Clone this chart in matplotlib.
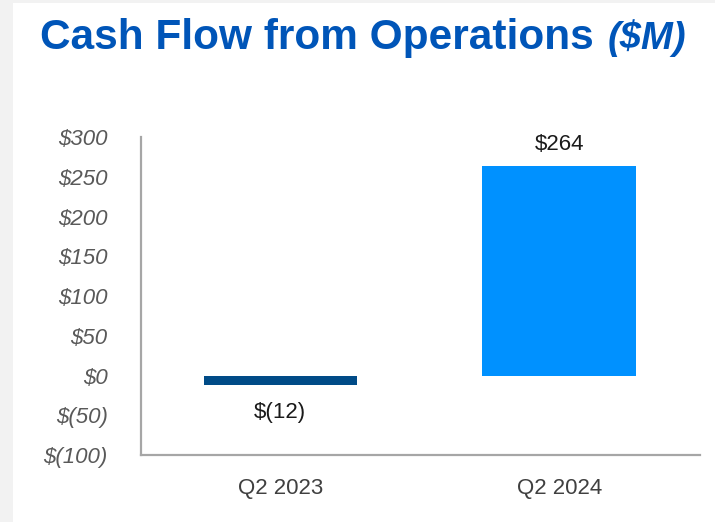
import matplotlib.pyplot as plt
from matplotlib.patches import Rectangle

# chart data
quarters = ['Q2 2023', 'Q2 2024']
cash_flow = [-12, 264]
value_labels = ['$(12)', '$264']
bar_colors = ['#004b87', '#0091ff']
y_ticks = [-100, -50, 0, 50, 100, 150, 200, 250, 300]
y_tick_labels = ['$(100)', '$(50)', '$0', '$50', '$100', '$150', '$200', '$250', '$300']

plt.rcParams['font.family'] = ['Liberation Sans', 'DejaVu Sans']

fig = plt.figure(figsize=(7.15, 5.22), dpi=100, facecolor='#f2f2f2')
# white slide area, thin grey margin at left and top
fig.patches.append(Rectangle((13 / 715, 0), 1, 1 - 3 / 522, transform=fig.transFigure,
                             facecolor='white', edgecolor='none', zorder=-5))

ax = fig.add_axes([0.197, 0.128, 0.782, 0.6095])
ax.set_facecolor('none')

x = range(len(quarters))
bars = ax.bar(x, cash_flow, width=0.55, color=bar_colors, zorder=2)

for xi, val, lab in zip(x, cash_flow, value_labels):
    if val >= 0:
        ax.annotate(lab, (xi, val), xytext=(0, 8), textcoords='offset points',
                    ha='center', va='bottom', fontsize=16, color='#1a1a1a')
    else:
        ax.annotate(lab, (xi, val), xytext=(0, -12), textcoords='offset points',
                    ha='center', va='top', fontsize=16, color='#1a1a1a')

ax.set_xlim(-0.5, 1.505)
ax.set_ylim(-100, 300)
ax.set_xticks(list(x))
ax.set_xticklabels(quarters, fontsize=16, color='#404040')
ax.set_yticks(y_ticks)
ax.set_yticklabels(y_tick_labels, fontsize=16, color='#595959', style='italic')
ax.tick_params(axis='both', length=0)
ax.tick_params(axis='y', pad=24)
ax.tick_params(axis='x', pad=16.5)

for side in ['top', 'right']:
    ax.spines[side].set_visible(False)
for side in ['left', 'bottom']:
    ax.spines[side].set_color('#a6a6a6')
    ax.spines[side].set_linewidth(1.6)

# title
fig.text(40 / 715, 1 - 49 / 522, 'Cash Flow from Operations', fontsize=30.5,
         fontweight='bold', color='#0055b8', ha='left', va='baseline')
fig.text(608 / 715, 1 - 49 / 522, '($M)', fontsize=27.5, fontweight='bold',
         style='italic', color='#0055b8', ha='left', va='baseline')

fig.savefig('out.png', dpi=100, facecolor=fig.get_facecolor())
